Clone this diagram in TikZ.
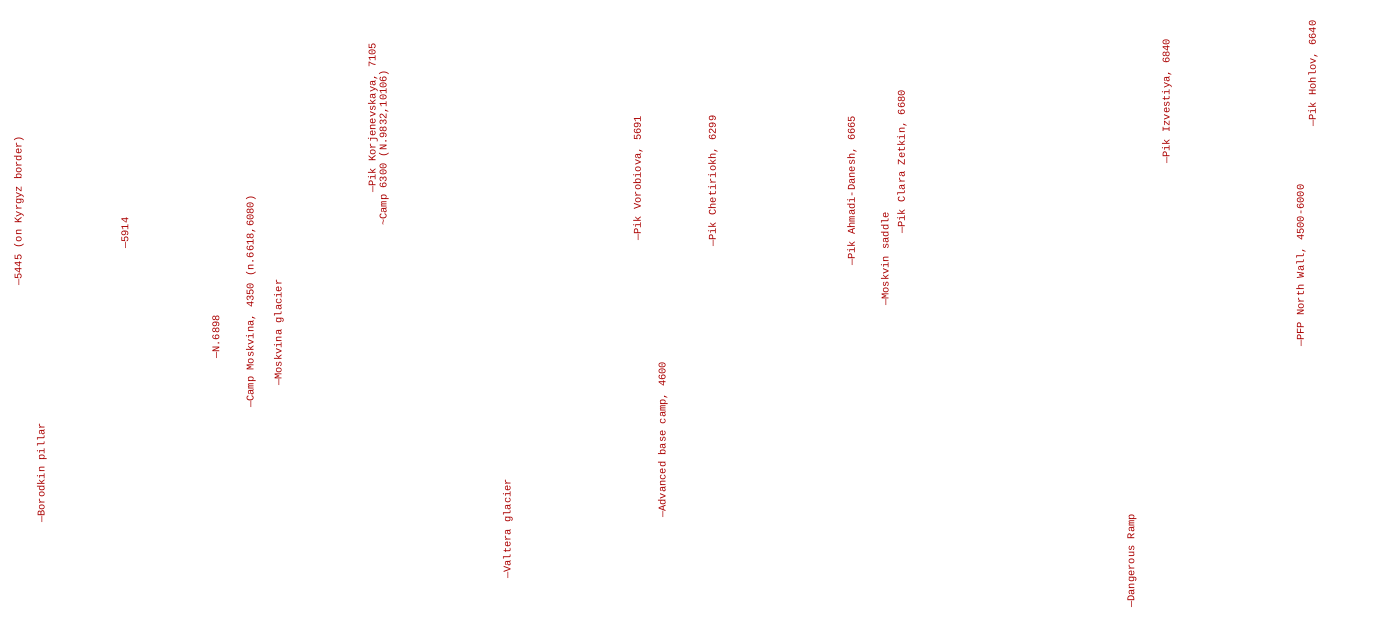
\documentclass[tikz,border=0pt]{standalone}
\usepackage{fontspec}
\setmonofont{Liberation Mono}
\usepackage{xcolor}
\usetikzlibrary{positioning}
\definecolor{labelred}{RGB}{170,0,0}
\tikzset{
  %% Rotated place label
  plabel/.style={
    rotate=90, anchor=west, inner sep=0pt,
    text=labelred, font=\ttfamily\fontsize{10.4}{12}\selectfont
  },
}
\begin{document}
\begin{tikzpicture}[x=1pt, y=-1pt]
  \useasboundingbox (0,0) rectangle (1395,620);
  \node[plabel] (kyrgyz)   at (19,286)   {—5445 (on Kyrgyz border)};
  \node[plabel] (borodkin) at (42,523)   {—Borodkin pillar};
  \node[plabel] (p5914)    at (125,249)  {—5914};
  \node[plabel] (n6898)    at (216,359)  {—N.6898};
  \node[plabel] (cmoskv)   at (251,408)  {—Camp Moskvina, 4350 (n.6618,6080)};
  \node[plabel] (gmoskv)   at (279,386)  {—Moskvina glacier};
  \node[plabel] (korj)     at (373,193)  {—Pik Korjenevskaya, 7105};
  \node[plabel] (camp6300) at (384,226)  {\textasciitilde Camp 6300 (N.9832,10106)};
  \node[plabel] (valtera)  at (508,579)  {—Valtera glacier};
  \node[plabel] (vorob)    at (638,241)  {—Pik Vorobiova, 5691};
  \node[plabel] (abc)      at (663,518)  {—Advanced base camp, 4600};
  \node[plabel] (chetir)   at (713,247)  {—Pik Chetiriokh, 6299};
  \node[plabel] (ahmadi)   at (852,266)  {—Pik Ahmadi-Danesh, 6665};
  \node[plabel] (saddle)   at (885,306)  {—Moskvin saddle};
  \node[plabel] (zetkin)   at (902,234)  {—Pik Clara Zetkin, 6680};
  \node[plabel] (ramp)     at (1132,608) {—Dangerous Ramp};
  \node[plabel] (izvest)   at (1167,164) {—Pik Izvestiya, 6840};
  \node[plabel] (pfp)      at (1301,347) {—PFP North Wall, 4500-6000};
  \node[plabel] (hohlov)   at (1313,127) {—Pik Hohlov, 6640};
\end{tikzpicture}
\end{document}
